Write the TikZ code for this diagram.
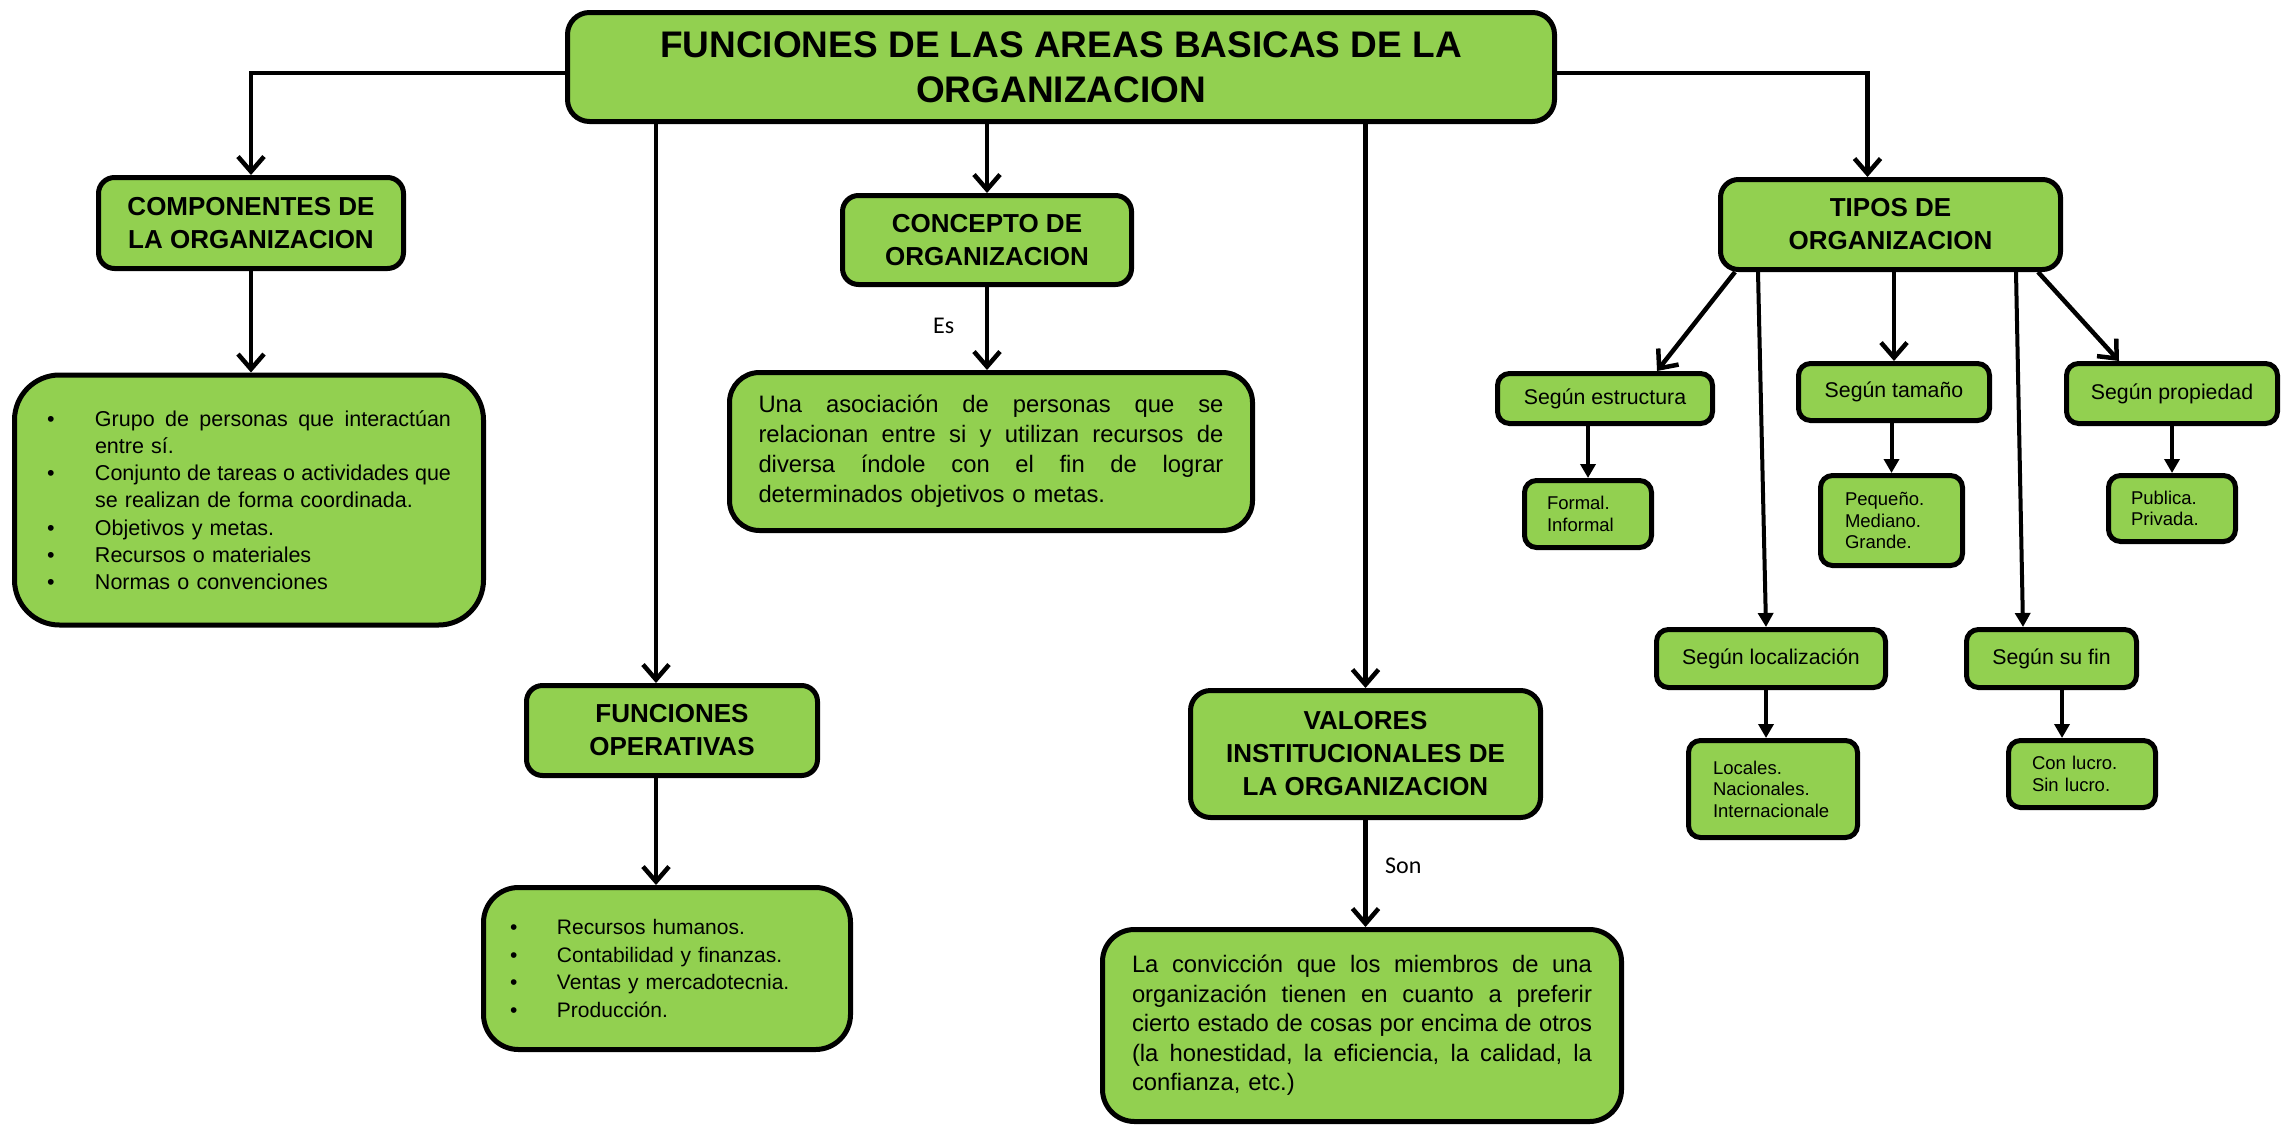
\documentclass[tikz,border=0pt]{standalone}
\usepackage{fontspec}
\setmainfont{Liberation Sans}
\newfontfamily\calibri{Carlito}
\usetikzlibrary{arrows.meta,calc}
\definecolor{boxgreen}{RGB}{146,208,80}
\newcommand{\bul}{\makebox[48pt][l]{\textbullet}}
\newcommand{\bulr}{\makebox[47pt][l]{\textbullet}}
\newcommand{\nob}{\makebox[48pt][l]{}}
\newcommand{\jl}[2]{\leavevmode\hbox to #1{\frenchspacing\spaceskip=0.278em plus 1fil\relax #2}}
\begin{document}
\begin{tikzpicture}[x=1pt,y=-1pt,
  box/.style={draw=black, line width=5pt, fill=boxgreen, rounded corners=#1, inner sep=0pt, align=center},
  box/.default=16pt,
  titlef/.style={font=\fontsize{37}{45}\selectfont\bfseries},
  hdr/.style={font=\fontsize{26}{33}\selectfont\bfseries},
  bodyf/.style={font=\fontsize{21.5}{27.2}\selectfont},
  parf/.style={font=\fontsize{23.8}{30}\selectfont},
  segf/.style={font=\fontsize{21.3}{26}\selectfont},
  smallf/.style={font=\fontsize{18.5}{21.5}\selectfont},
  lbl/.style={font=\calibri\fontsize{24}{28}\selectfont, inner sep=0pt},
  mainarr/.style={draw=black, line width=4.5pt, -{Straight Barb[length=15pt,width=26pt]}},
  smallarr/.style={draw=black, line width=4pt, -{Triangle[length=14pt,width=15pt]}}
]
\useasboundingbox (0,0) rectangle (2282,1127);
\fill[white] (0,0) rectangle (2282,1127);

% nodes
\node[box=22pt, minimum width=987pt, minimum height=109pt, titlef, text depth=0pt] (title) at (1061,67) {FUNCIONES DE LAS AREAS BASICAS DE LA\\ORGANIZACION};

\node[box=16pt, minimum width=305pt, minimum height=91pt, hdr] (comp) at (251,223) {COMPONENTES DE\\LA ORGANIZACION};
\node[box=45pt, minimum width=469pt, minimum height=250pt, bodyf, text width=404pt, align=left] (bul1) at (249,500) {%
\bul\jl{356pt}{Grupo de personas que interactúan}\\
\nob entre sí.\\
\bul\jl{356pt}{Conjunto de tareas o actividades que}\\
\nob se realizan de forma coordinada.\\
\bul Objetivos y metas.\\
\bul Recursos o materiales\\
\bul Normas o convenciones};

\node[box=16pt, minimum width=291pt, minimum height=90pt, hdr] (fo) at (672,730.5) {FUNCIONES\\OPERATIVAS};
\node[box=35pt, minimum width=367pt, minimum height=162pt, font=\fontsize{21}{27.7}\selectfont, text width=314pt, align=left] (rec) at (667,968.5) {%
\bulr Recursos humanos.\\
\bulr Contabilidad y finanzas.\\
\bulr Ventas y mercadotecnia.\\
\bulr Producción.};

\node[box=16pt, minimum width=289pt, minimum height=89pt, hdr] (concept) at (987,240) {CONCEPTO DE\\ORGANIZACION};
\node[box=30pt, minimum width=523pt, minimum height=158pt, parf, text width=465pt, align=left] (ctext) at (991,451.5) {%
\jl{465pt}{Una asociación de personas que se}\\
\jl{465pt}{relacionan entre si y utilizan recursos de}\\
\jl{465pt}{diversa índole con el fin de lograr}\\
determinados objetivos o metas.};

\node[box=20pt, minimum width=350pt, minimum height=127pt, hdr] (valores) at (1365.5,754) {VALORES\\INSTITUCIONALES DE\\LA ORGANIZACION};
\node[box=32pt, minimum width=519pt, minimum height=192pt, font=\fontsize{23.8}{29.5}\selectfont, text width=460pt, align=left] (conv) at (1362,1025.5) {%
\jl{460pt}{La convicción que los miembros de una}\\
\jl{460pt}{organización tienen en cuanto a preferir}\\
\jl{460pt}{cierto estado de cosas por encima de otros}\\
\jl{460pt}{(la honestidad, la eficiencia, la calidad, la}\\
confianza, etc.)};

\node[box=18pt, minimum width=340pt, minimum height=90pt, hdr] (tipos) at (1890.5,224.5) {TIPOS DE\\ORGANIZACION};

\node[box=12pt, minimum width=215pt, minimum height=50pt, segf] (est) at (1605,398.5) {Según estructura};
\node[box=12pt, minimum width=127pt, minimum height=67pt, smallf, text width=82pt, align=left] (formal) at (1588,514) {Formal.\\Informal};
\node[box=12pt, minimum width=191pt, minimum height=57pt, segf] (tam) at (1894,392) {Según tamaño};
\node[box=12pt, minimum width=142pt, minimum height=90pt, smallf, text width=93pt, align=left] (peq) at (1891.5,520.5) {Pequeño.\\Mediano.\\Grande.};
\node[box=12pt, minimum width=211pt, minimum height=60pt, segf] (prop) at (2172,393.5) {Según propiedad};
\node[box=12pt, minimum width=127pt, minimum height=66pt, smallf, text width=82pt, align=left] (pub) at (2172,508.5) {Publica.\\Privada.};
\node[box=12pt, minimum width=229pt, minimum height=58pt, segf] (loc) at (1771,658.5) {Según localización};
\node[box=12pt, minimum width=169pt, minimum height=97pt, smallf, text width=120pt, align=left] (locales) at (1773,789) {Locales.\\Nacionales.\\Internacionale};
\node[box=12pt, minimum width=170pt, minimum height=58pt, segf] (fin) at (2051.5,658.5) {Según su fin};
\node[box=12pt, minimum width=147pt, minimum height=67pt, smallf, text width=100pt, align=left] (con) at (2082,774) {Con lucro.\\Sin lucro.};

% labels
\node[lbl, anchor=base west] (es) at (933,333) {Es};
\node[lbl, anchor=base west] (son) at (1385,873) {Son};

% helper coordinates
\coordinate (xfo) at (656,0);
\coordinate (lcx) at ($(locales.north west)+(80,0)$);
\coordinate (cnx) at ($(con.north west)+(56,0)$);

% connectors from title
\draw[mainarr] ([yshift=-6pt]title.west) -| (comp.north);
\draw[mainarr] ([yshift=-6pt]title.east) -| ([xshift=-23pt]tipos.north);
\draw[mainarr] (title.south -| xfo) -- (fo.north -| xfo);
\draw[mainarr] (title.south -| concept.north) -- (concept.north);
\draw[mainarr] (title.south -| valores.north) -- (valores.north);

% second level
\draw[mainarr] (comp.south) -- (comp.south |- bul1.north);
\draw[mainarr] (concept.south) -- (concept.south |- ctext.north);
\draw[mainarr] (xfo |- fo.south) -- (xfo |- rec.north);
\draw[mainarr] (valores.south) -- (valores.south |- conv.north);

% tipos
\draw[mainarr] ($(tipos.south west)+(17,0)$) -- ($(est.north west)+(162,0)$);
\draw[smallarr] ($(tipos.south west)+(40,0)$) -- ($(loc.north west)+(112,0)$);
\draw[mainarr] (tam.north |- tipos.south) -- (tam.north);
\draw[smallarr] ($(tipos.south west)+(298,0)$) -- ($(fin.north west)+(59,0)$);
\draw[mainarr] ($(tipos.south west)+(320,0)$) -- ($(prop.north west)+(55,0)$);

% small arrows
\draw[smallarr] (formal.north |- est.south) -- (formal.north);
\draw[smallarr] (peq.north |- tam.south) -- (peq.north);
\draw[smallarr] (pub.north |- prop.south) -- (pub.north);
\draw[smallarr] (lcx |- loc.south) -- (lcx);
\draw[smallarr] (cnx |- fin.south) -- (cnx);
\end{tikzpicture}
\end{document}
